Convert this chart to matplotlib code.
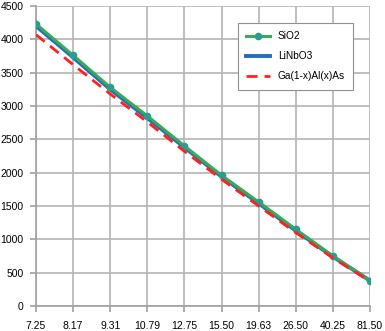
import matplotlib
matplotlib.use("Agg")
import matplotlib.pyplot as plt

plt.rcParams['font.family'] = ['Liberation Sans', 'DejaVu Sans']

# 数据
categories = ["7.25", "8.17", "9.31", "10.79", "12.75", "15.50", "19.63", "26.50", "40.25", "81.50"]
sio2 = [4230, 3760, 3280, 2850, 2400, 1960, 1560, 1150, 750, 380]
linbo3 = [4200, 3730, 3250, 2820, 2380, 1940, 1540, 1130, 740, 380]
gaalas = [4070, 3620, 3180, 2760, 2320, 1900, 1500, 1100, 720, 370]

x = list(range(len(categories)))

fig = plt.figure(figsize=(3.85, 3.31), dpi=100)
ax = fig.add_axes([36 / 385, 25 / 331, 334 / 385, 300 / 331])

ax.plot(x, linbo3, color='#1f6ec0', lw=2.8, label='LiNbO3', zorder=3)
ax.plot(x, sio2, color='#3aaa55', lw=2.2, marker='o', ms=4.5,
        mfc='#2a9d8f', mec='#2a9d8f', label='SiO2', zorder=4)
ax.plot(x, gaalas, color='#ff2020', lw=2.0, ls=(0, (4, 2.5)),
        label='Ga(1-x)Al(x)As', zorder=5)

ax.set_xlim(0, len(categories) - 1)
ax.set_ylim(0, 4500)
ax.set_yticks(range(0, 4501, 500))
ax.set_xticks(x)
ax.set_xticklabels(categories)

ax.grid(True, color='#b4b4b4', lw=1.2)
ax.set_axisbelow(True)
for s in ['top', 'right']:
    ax.spines[s].set_visible(False)
for s in ['left', 'bottom']:
    ax.spines[s].set_color('#a0a0a0')
    ax.spines[s].set_linewidth(1.2)

ax.tick_params(axis='both', labelsize=7.5, color='#a0a0a0', length=4, width=1.2, pad=5)
ax.tick_params(axis='x', pad=6.5)

# 图例顺序
handles, labels = ax.get_legend_handles_labels()
order = [1, 0, 2]
leg = ax.legend([handles[i] for i in order], [labels[i] for i in order],
                loc='upper right', bbox_to_anchor=(0.949, 0.943), borderaxespad=0,
                fontsize=7.3, fancybox=False, framealpha=1, edgecolor='#909090',
                handlelength=2.3, borderpad=0.8, labelspacing=1.0)
leg.get_frame().set_linewidth(0.8)

fig.savefig("out.png", dpi=100)
